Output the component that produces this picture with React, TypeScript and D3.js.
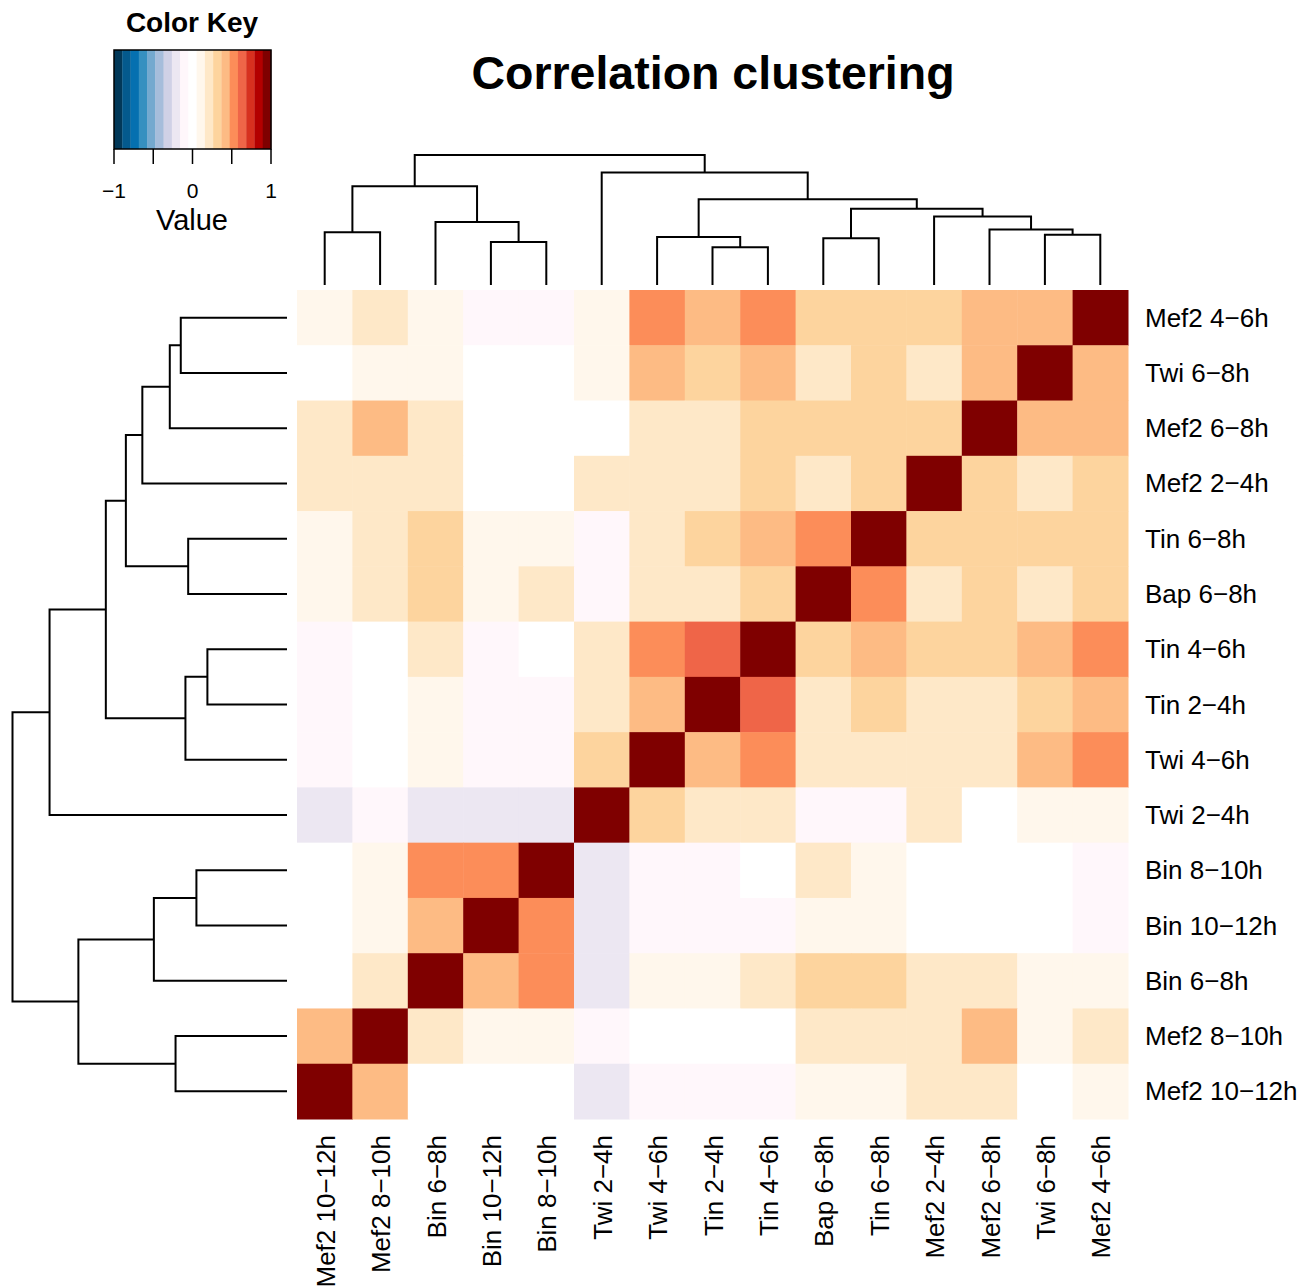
import React, { useEffect, useRef } from "react";
import { select, scaleBand, scaleLinear, scaleQuantize } from "d3";

// leaf order of the rows, top to bottom
const rowLabels = [
  "Mef2 4−6h",
  "Twi 6−8h",
  "Mef2 6−8h",
  "Mef2 2−4h",
  "Tin 6−8h",
  "Bap 6−8h",
  "Tin 4−6h",
  "Tin 2−4h",
  "Twi 4−6h",
  "Twi 2−4h",
  "Bin 8−10h",
  "Bin 10−12h",
  "Bin 6−8h",
  "Mef2 8−10h",
  "Mef2 10−12h",
];

// leaf order of the columns, left to right
const colLabels = [
  "Mef2 10−12h",
  "Mef2 8−10h",
  "Bin 6−8h",
  "Bin 10−12h",
  "Bin 8−10h",
  "Twi 2−4h",
  "Twi 4−6h",
  "Tin 2−4h",
  "Tin 4−6h",
  "Bap 6−8h",
  "Tin 6−8h",
  "Mef2 2−4h",
  "Mef2 6−8h",
  "Twi 6−8h",
  "Mef2 4−6h",
];

// correlations, one row per rowLabels entry, columns in colLabels order
const corr = [
  [0.11, 0.21, 0.11, -0.1, -0.1, 0.11, 0.53, 0.42, 0.53, 0.31, 0.31, 0.31, 0.42, 0.42, 1],
  [0.02, 0.11, 0.11, 0.02, 0.02, 0.11, 0.42, 0.31, 0.42, 0.21, 0.31, 0.21, 0.42, 1, 0.42],
  [0.21, 0.42, 0.21, 0.02, 0.02, 0.02, 0.21, 0.21, 0.31, 0.31, 0.31, 0.31, 1, 0.42, 0.42],
  [0.21, 0.21, 0.21, 0.02, 0.02, 0.21, 0.21, 0.21, 0.31, 0.21, 0.31, 1, 0.31, 0.21, 0.31],
  [0.11, 0.21, 0.31, 0.11, 0.11, -0.1, 0.21, 0.31, 0.42, 0.53, 1, 0.31, 0.31, 0.31, 0.31],
  [0.11, 0.21, 0.31, 0.11, 0.21, -0.1, 0.21, 0.21, 0.31, 1, 0.53, 0.21, 0.31, 0.21, 0.31],
  [-0.1, 0.02, 0.21, -0.1, 0.02, 0.21, 0.53, 0.63, 1, 0.31, 0.42, 0.31, 0.31, 0.42, 0.53],
  [-0.1, 0.02, 0.11, -0.1, -0.1, 0.21, 0.42, 1, 0.63, 0.21, 0.31, 0.21, 0.21, 0.31, 0.42],
  [-0.1, 0.02, 0.11, -0.1, -0.1, 0.31, 1, 0.42, 0.53, 0.21, 0.21, 0.21, 0.21, 0.42, 0.53],
  [-0.2, -0.1, -0.2, -0.2, -0.2, 1, 0.31, 0.21, 0.21, -0.1, -0.1, 0.21, 0.02, 0.11, 0.11],
  [0.02, 0.11, 0.53, 0.53, 1, -0.2, -0.1, -0.1, 0.02, 0.21, 0.11, 0.02, 0.02, 0.02, -0.1],
  [0.02, 0.11, 0.42, 1, 0.53, -0.2, -0.1, -0.1, -0.1, 0.11, 0.11, 0.02, 0.02, 0.02, -0.1],
  [0.02, 0.21, 1, 0.42, 0.53, -0.2, 0.11, 0.11, 0.21, 0.31, 0.31, 0.21, 0.21, 0.11, 0.11],
  [0.42, 1, 0.21, 0.11, 0.11, -0.1, 0.02, 0.02, 0.02, 0.21, 0.21, 0.21, 0.42, 0.11, 0.21],
  [1, 0.42, 0.02, 0.02, 0.02, -0.2, -0.1, -0.1, -0.1, 0.11, 0.11, 0.21, 0.21, 0.02, 0.11],
];

// hclust style merges: negative = leaf (1-based index into rowLabels), positive = earlier merge
const merges = [
  [-1, -2],
  [-3, 1],
  [-4, 2],
  [-5, -6],
  [3, 4],
  [-7, -8],
  [-9, 6],
  [5, 7],
  [-10, 8],
  [-11, -12],
  [-13, 10],
  [-14, -15],
  [11, 12],
  [9, 13],
];
const mergeHeights = [0.387, 0.427, 0.527, 0.36, 0.587, 0.29, 0.37, 0.66, 0.865, 0.33, 0.485, 0.406, 0.76, 1.0];

// 19 colour bins, -1 .. 1
const palette = [
  "#023858", "#045A8D", "#0570B0", "#3690C0", "#74A9CF", "#A6BDDB", "#D0D1E6", "#ECE7F2", "#FFF7FB",
  "#FFFFFF",
  "#FFF7EC", "#FEE8C8", "#FDD49E", "#FDBB84", "#FC8D59", "#EF6548", "#D7301F", "#B30000", "#7F0000",
];
const keyTicks = [-1, -0.5, 0, 0.5, 1];
const keyLabels = [-1, 0, 1];

const font = "'Liberation Sans', Arial, Helvetica, sans-serif";

const App = () => {
  const ref = useRef(null);

  useEffect(() => {
    const svg = select(ref.current);
    svg.selectAll("*").remove();

    const x = scaleBand().domain(colLabels).range([297, 1128]);
    const y = scaleBand().domain(rowLabels).range([290, 1119]);
    const color = scaleQuantize().domain([-1, 1]).range(palette);

    // heatmap cells
    const cells = [];
    rowLabels.forEach((r, i) => colLabels.forEach((c, j) => cells.push({ r, c, v: corr[i][j] })));
    svg
      .append("g")
      .selectAll("rect")
      .data(cells)
      .enter()
      .append("rect")
      .attr("x", (d) => x(d.c))
      .attr("y", (d) => y(d.r))
      .attr("width", x.bandwidth() + 0.5)
      .attr("height", y.bandwidth() + 0.5)
      .attr("fill", (d) => color(d.v));

    // dendrograms
    const maxH = Math.max(...mergeHeights);
    const heightOf = (n) => (n < 0 ? 0 : mergeHeights[n - 1]);
    const posOf = (n, leafPos) =>
      n < 0 ? leafPos(-n - 1) : (posOf(merges[n - 1][0], leafPos) + posOf(merges[n - 1][1], leafPos)) / 2;

    const drawDendro = (leafPos, hScale, horizontal) => {
      const pt = (p, h) => (horizontal ? [hScale(h), p] : [p, hScale(h)]);
      const paths = merges.map(([a, b], k) => {
        const h = mergeHeights[k];
        const pa = posOf(a, leafPos);
        const pb = posOf(b, leafPos);
        const pts = [pt(pa, heightOf(a)), pt(pa, h), pt(pb, h), pt(pb, heightOf(b))];
        return "M" + pts.map((p) => p.join(",")).join("L");
      });
      svg
        .append("g")
        .selectAll("path")
        .data(paths)
        .enter()
        .append("path")
        .attr("d", (d) => d)
        .attr("fill", "none")
        .attr("stroke", "#000")
        .attr("stroke-width", 2);
    };

    const rowH = scaleLinear().domain([0, maxH]).range([287, 12.5]);
    drawDendro((i) => y(rowLabels[i]) + y.bandwidth() / 2, rowH, true);
    const colH = scaleLinear().domain([0, maxH]).range([285, 155]);
    drawDendro((i) => x(rowLabels[i]) + x.bandwidth() / 2, colH, false);

    // row labels
    svg
      .append("g")
      .selectAll("text")
      .data(rowLabels)
      .enter()
      .append("text")
      .attr("x", 1145)
      .attr("y", (d) => y(d) + y.bandwidth() / 2 + 9)
      .attr("font-size", 26)
      .attr("font-family", font)
      .text((d) => d);

    // column labels
    svg
      .append("g")
      .selectAll("text")
      .data(colLabels)
      .enter()
      .append("text")
      .attr("transform", (d) => `translate(${x(d) + x.bandwidth() / 2 + 10},1135) rotate(-90)`)
      .attr("text-anchor", "end")
      .attr("font-size", 26)
      .attr("font-family", font)
      .text((d) => d);

    // title
    svg
      .append("text")
      .attr("x", 713)
      .attr("y", 89)
      .attr("text-anchor", "middle")
      .attr("font-size", 46.5)
      .attr("font-weight", "bold")
      .attr("font-family", font)
      .text("Correlation clustering");

    // colour key
    const k = scaleLinear().domain([-1, 1]).range([114, 271]);
    const key = svg.append("g");
    const step = 2 / palette.length;
    key
      .selectAll("rect")
      .data(palette)
      .enter()
      .append("rect")
      .attr("x", (d, i) => k(-1 + i * step))
      .attr("y", 50)
      .attr("width", (d, i) => k(-1 + (i + 1) * step) - k(-1 + i * step) + 0.3)
      .attr("height", 99)
      .attr("fill", (d) => d);
    key
      .append("rect")
      .attr("x", k(-1))
      .attr("y", 50)
      .attr("width", k(1) - k(-1))
      .attr("height", 99)
      .attr("fill", "none")
      .attr("stroke", "#000")
      .attr("stroke-width", 1.5);
    key
      .selectAll("line")
      .data(keyTicks)
      .enter()
      .append("line")
      .attr("x1", (d) => k(d))
      .attr("x2", (d) => k(d))
      .attr("y1", 149)
      .attr("y2", 164)
      .attr("stroke", "#000")
      .attr("stroke-width", 1.5);
    key
      .selectAll("text.tick")
      .data(keyLabels)
      .enter()
      .append("text")
      .attr("class", "tick")
      .attr("x", (d) => k(d))
      .attr("y", 198)
      .attr("text-anchor", "middle")
      .attr("font-size", 21)
      .attr("font-family", font)
      .text((d) => (d < 0 ? "−" + Math.abs(d) : String(d)));
    key
      .append("text")
      .attr("x", 192)
      .attr("y", 230)
      .attr("text-anchor", "middle")
      .attr("font-size", 29)
      .attr("font-family", font)
      .text("Value");
    key
      .append("text")
      .attr("x", 192)
      .attr("y", 32)
      .attr("text-anchor", "middle")
      .attr("font-size", 28)
      .attr("font-weight", "bold")
      .attr("font-family", font)
      .text("Color Key");
  }, []);

  return (
    <div style={{ position: "absolute", left: 0, top: 0 }}>
      <svg ref={ref} width="1306" height="1288" style={{ display: "block", background: "#fff" }}></svg>
    </div>
  );
};

export default App;
